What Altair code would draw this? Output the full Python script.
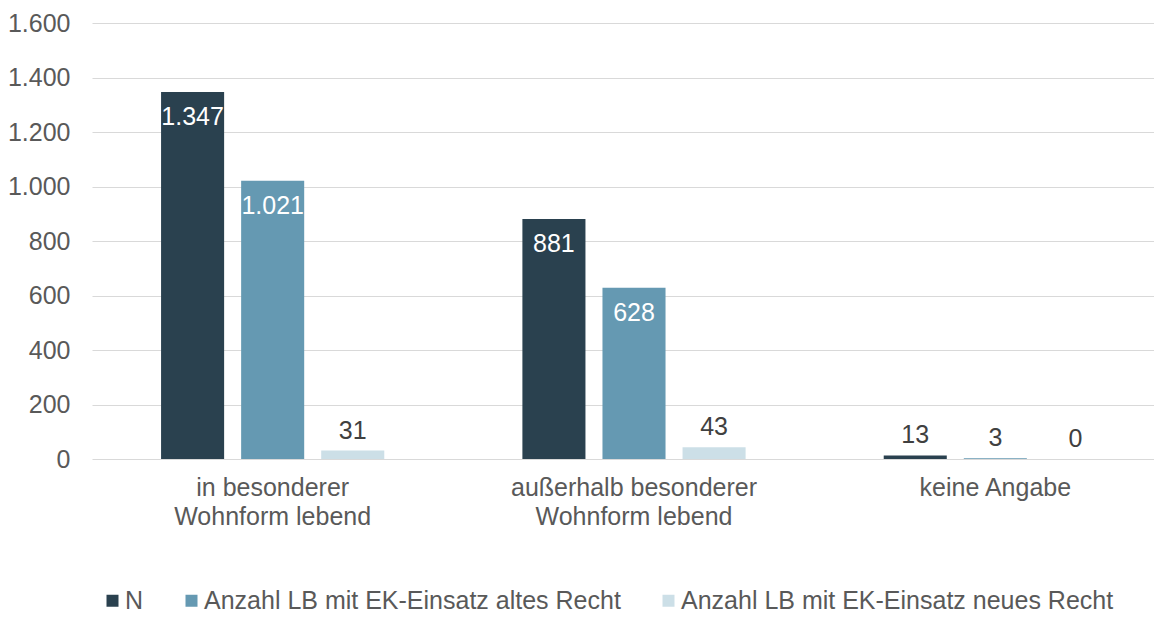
import altair as alt
import pandas as pd

categories = ["in besonderer\nWohnform lebend", "außerhalb besonderer\nWohnform lebend", "keine Angabe"]
series = ["N", "Anzahl LB mit EK-Einsatz altes Recht", "Anzahl LB mit EK-Einsatz neues Recht"]
values_n = [1347, 881, 13]
values_alt = [1021, 628, 3]
values_neu = [31, 43, 0]
colors = ["#2A414F", "#6599B2", "#CCDFE7"]
y_ticks = [0, 200, 400, 600, 800, 1000, 1200, 1400, 1600]

rows = []
for s, vals in zip(series, [values_n, values_alt, values_neu]):
    for c, v in zip(categories, vals):
        rows.append({"Kategorie": c, "Reihe": s, "Wert": v})
df = pd.DataFrame(rows)

FONT = "Liberation Sans"
FS = 25

x_enc = alt.X("Kategorie:N", sort=categories,
              scale=alt.Scale(paddingInner=0, paddingOuter=0),
              axis=alt.Axis(title=None, domain=False, ticks=False, labelAngle=0,
                            labelFontSize=FS, labelColor="#595959", labelPadding=16,
                            labelLineHeight=29, labelLimit=1000,
                            labelExpr="split(datum.label, '\\n')"))
xo_enc = alt.XOffset("Reihe:N", sort=series,
                     scale=alt.Scale(paddingInner=0.2125, paddingOuter=0.8625))
y_enc = alt.Y("Wert:Q", scale=alt.Scale(domain=[0, 1600], nice=False),
              axis=alt.Axis(title=None, values=y_ticks, domain=False, ticks=False,
                            labelFontSize=FS, labelColor="#595959", labelPadding=22,
                            gridColor="#D9D9D9", gridWidth=1))

base = alt.Chart(df)

bars = base.mark_bar().encode(
    x=x_enc, xOffset=xo_enc, y=y_enc,
    color=alt.Color("Reihe:N", sort=series,
                    scale=alt.Scale(domain=series, range=colors),
                    legend=alt.Legend(orient="none", legendX=8, legendY=565,
                                      direction="horizontal", title=None,
                                      symbolType="square", symbolSize=144,
                                      symbolStrokeWidth=0, labelFontSize=FS,
                                      labelColor="#595959", columnPadding=35,
                                      labelOffset=0, labelLimit=1000, padding=0)),
)

inside = base.transform_filter("datum.Wert > 200").mark_text(
    baseline="middle", dy=25, fontSize=FS, color="white", font=FONT
).encode(x=alt.X("Kategorie:N", sort=categories), xOffset=alt.XOffset("Reihe:N", sort=series),
         y="Wert:Q", text=alt.Text("Wert:Q", format=",d"))

above = base.transform_filter("datum.Wert <= 200").mark_text(
    baseline="middle", dy=-20, fontSize=FS, color="#404040", font=FONT
).encode(x=alt.X("Kategorie:N", sort=categories), xOffset=alt.XOffset("Reihe:N", sort=series),
         y="Wert:Q", text=alt.Text("Wert:Q", format=",d"))

chart = alt.layer(bars, inside, above).properties(
    width=1084, height=436,
    autosize=alt.AutoSizeParams(type="none"),
    padding={"left": 84, "top": 15, "right": -22, "bottom": 150},
).configure(
    font=FONT,
    locale={"number": {"decimal": ",", "thousands": ".", "grouping": [3], "currency": ["", " €"]}},
).configure_view(stroke=None)

chart.save("out.html", embed_options={"renderer": "svg", "actions": False})
